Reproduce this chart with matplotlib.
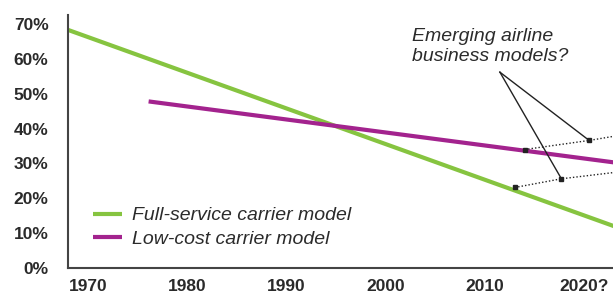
import matplotlib.pyplot as plt

plt.rcParams['font.family'] = ['Liberation Sans', 'DejaVu Sans']

# full-service carrier share (%)
full_years = [1968, 2023]
full_share = [68.3, 12.0]

# low-cost carrier share (%)
low_years = [1976.1, 2023]
low_share = [47.8, 30.3]

# emerging business model guesses (dotted)
upper_years = [2014.0, 2020.5, 2023]
upper_share = [34.0, 36.6, 37.8]
lower_years = [2013.0, 2017.7, 2023]
lower_share = [23.1, 25.6, 27.4]

x_ticks = [1970, 1980, 1990, 2000, 2010, 2020]
x_labels = ['1970', '1980', '1990', '2000', '2010', '2020?']
y_ticks = [0, 10, 20, 30, 40, 50, 60, 70]

green = '#86c440'
purple = '#a3238e'
txt = '#2b2b2b'

fig = plt.figure(figsize=(6.13, 2.98), dpi=100)
ax = fig.add_axes([0.111, 0.1007, 0.889, 0.849])

ax.plot(full_years, full_share, color=green, lw=3, solid_capstyle='butt',
        label='Full-service carrier model')
ax.plot(low_years, low_share, color=purple, lw=3, solid_capstyle='butt',
        label='Low-cost carrier model')

for yrs, vals in [(upper_years, upper_share), (lower_years, lower_share)]:
    ax.plot(yrs, vals, color='#222222', lw=1, ls=(0, (1, 1.5)))
    ax.plot(yrs[:2], vals[:2], 's', color='#222222', ms=2.5)

# annotation lines from the label
apex = (2011.5, 56.2)
for tx, ty in [(upper_years[1], upper_share[1]), (lower_years[1], lower_share[1])]:
    ax.plot([apex[0], tx], [apex[1], ty], color='#222222', lw=1)

ax.text(2002.6, 69.0, 'Emerging airline\nbusiness models?', fontsize=14,
        style='italic', color=txt, va='top', ha='left', linespacing=1.3)

ax.set_xlim(1967.98, 2022.9)
ax.set_ylim(0, 72.6)
ax.set_xticks(x_ticks)
ax.set_xticklabels(x_labels)
ax.set_yticks(y_ticks)
ax.set_yticklabels([f'{v}%' for v in y_ticks])
ax.tick_params(length=0, labelsize=12.5, colors=txt, pad=8)
ax.tick_params(axis='y', pad=14)
for lab in ax.get_xticklabels() + ax.get_yticklabels():
    lab.set_color('#2a2a2a')
    lab.set_fontweight('bold')

for s in ['top', 'right']:
    ax.spines[s].set_visible(False)
for s in ['left', 'bottom']:
    ax.spines[s].set_color('#444444')
    ax.spines[s].set_linewidth(1.5)

leg = ax.legend(loc='lower left', bbox_to_anchor=(0.046, 0.08), frameon=False,
                borderpad=0, borderaxespad=0,
                handlelength=1.5, handletextpad=0.5, labelspacing=0.3,
                prop={'size': 14, 'style': 'italic'})
for t in leg.get_texts():
    t.set_color(txt)

fig.savefig('out.png', dpi=100)
